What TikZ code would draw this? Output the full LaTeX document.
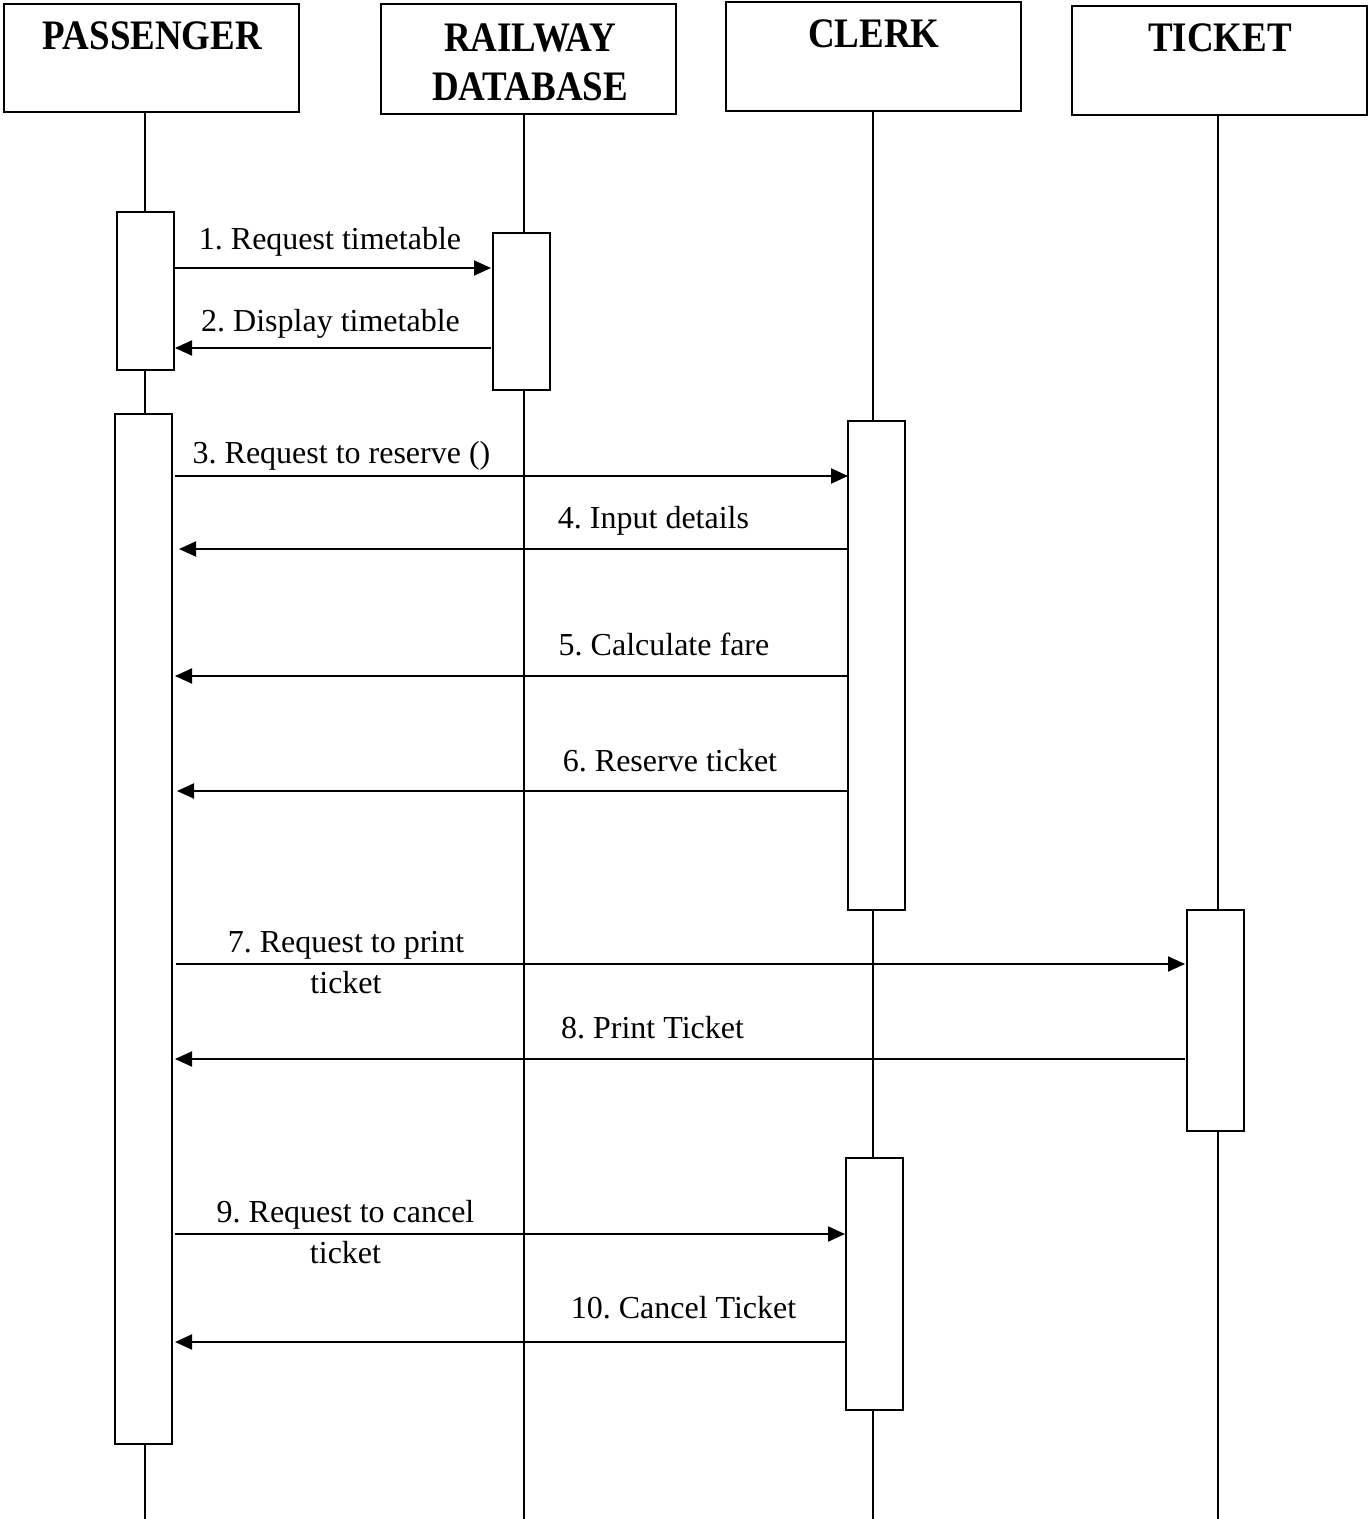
\documentclass[tikz,border=0pt]{standalone}
\usepackage{fontspec}
\setmainfont{Liberation Serif}
\newfontfamily\headfont{Liberation Serif Bold}[FakeStretch=0.88]
\usetikzlibrary{arrows.meta}
\frenchspacing

\tikzset{
  headbox/.style={draw, line width=1pt, inner sep=0pt, outer sep=0pt, minimum width=147.5pt},
  headtext/.style={anchor=base, inner sep=0pt, font=\headfont\fontsize{21}{24.5}\selectfont, align=center},
  life/.style={line width=1pt},
  actbox/.style={draw, fill=white, line width=1pt, inner sep=0pt, outer sep=0pt, minimum width=28.5pt},
  msg/.style={line width=1pt, -{Triangle[length=8.5pt,width=7.5pt]}},
  msgtext/.style={anchor=base, inner sep=0pt, font=\fontsize{16}{20.5}\selectfont, align=center},
}

\begin{document}
\begin{tikzpicture}[x=0.5pt, y=-0.5pt]
\useasboundingbox (0,0) rectangle (1368,1519);

% participants
\node[headbox, minimum height=54pt]   (pass)  at (151.5,58)   {};
\node[headbox, minimum height=55pt]   (rail)  at (528.5,59)   {};
\node[headbox, minimum height=54.5pt] (clerk) at (873.5,56.5) {};
\node[headbox, minimum height=54.5pt] (tick)  at (1219.5,60.5){};

% the base of a two-line label is the baseline of its last line
\node[headtext] (passT)  at (152.5,50) {PASSENGER};
\node[headtext] (railT)  at (530,101)  {RAILWAY\\DATABASE};
\node[headtext] (clerkT) at (874,48)   {CLERK};
\node[headtext] (tickT)  at (1220,52)  {TICKET};

% lifeline ends
\coordinate (passEnd)  at (145,1519);
\coordinate (railEnd)  at (524,1519);
\coordinate (clerkEnd) at (873,1519);
\coordinate (tickEnd)  at (1218,1519);

\draw[life] (pass.south -| passEnd)   -- (passEnd);
\draw[life] (rail.south -| railEnd)   -- (railEnd);
\draw[life] (clerk.south -| clerkEnd) -- (clerkEnd);
\draw[life] (tick.south -| tickEnd)   -- (tickEnd);

% activation bars
\node[actbox, minimum height=79pt]    (pa1) at (145.5,291)   {};
\node[actbox, minimum height=515pt]   (pa2) at (143.5,929)   {};
\node[actbox, minimum height=78.5pt]  (ra1) at (521.5,311.5) {};
\node[actbox, minimum height=244.5pt] (ca1) at (876.5,665.5) {};
\node[actbox, minimum height=110.5pt] (ta1) at (1215.5,1020.5){};
\node[actbox, minimum height=126pt]   (ca2) at (874.5,1284)  {};

% messages
\draw[msg, shorten >=1pt] (pa1.east |- 0,268) -- (ra1.west |- 0,268);
\draw[msg, shorten <=1pt, shorten >=0.5pt] (ra1.west |- 0,348) -- (pa1.east |- 0,348);
\draw[msg, shorten <=1.5pt] (pa2.east |- 0,476) -- (ca1.west |- 0,476);
\draw[msg, shorten >=3.5pt] (ca1.west |- 0,549) -- (pa2.east |- 0,549);
\draw[msg, shorten >=1.5pt] (ca1.west |- 0,676) -- (pa2.east |- 0,676);
\draw[msg, shorten >=2.5pt] (ca1.west |- 0,791) -- (pa2.east |- 0,791);
\draw[msg, shorten <=2pt, shorten >=1pt] (pa2.east |- 0,964) -- (ta1.west |- 0,964);
\draw[msg, shorten <=1pt, shorten >=1.5pt] (ta1.west |- 0,1059) -- (pa2.east |- 0,1059);
\draw[msg, shorten <=1.5pt, shorten >=0.5pt] (pa2.east |- 0,1234) -- (ca2.west |- 0,1234);
\draw[msg, shorten <=0.5pt, shorten >=1.5pt] (ca2.west |- 0,1342) -- (pa2.east |- 0,1342);

% message labels
\node[msgtext] (l1)  at (330,250)   {1. Request timetable};
\node[msgtext] (l2)  at (330.5,332) {2. Display timetable};
\node[msgtext] (l3)  at (341.5,463) {3. Request to reserve ()};
\node[msgtext] (l4)  at (653.5,528) {4. Input details};
\node[msgtext] (l5)  at (664,655)   {5. Calculate fare};
\node[msgtext] (l6)  at (670,771)   {6. Reserve ticket};
\node[msgtext] (l7)  at (346,993)   {7. Request to print\\ticket};
\node[msgtext] (l8)  at (652.5,1038){8. Print Ticket};
\node[msgtext] (l9)  at (345.5,1263){9. Request to cancel\\ticket};
\node[msgtext] (l10) at (683.5,1318){10. Cancel Ticket};
\end{tikzpicture}
\end{document}
